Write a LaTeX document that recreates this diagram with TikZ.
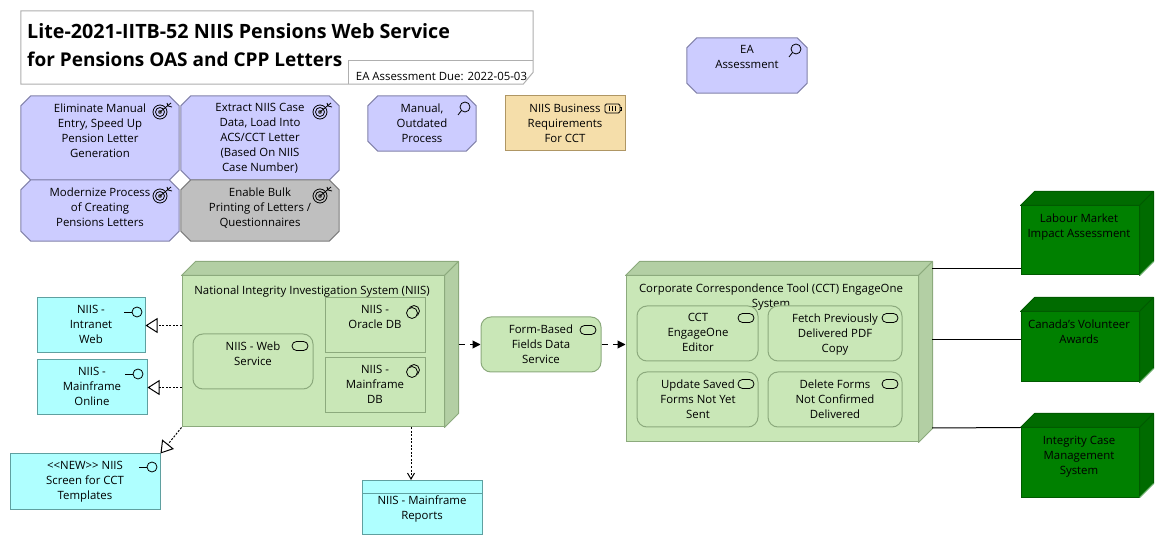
\documentclass[tikz,border=0pt]{standalone}
\usepackage{fontspec}
\setmainfont{Open Sans}
\usetikzlibrary{arrows.meta,calc}
\definecolor{GoalFill}{RGB}{204,204,255}
\definecolor{GoalLine}{RGB}{130,130,170}
\definecolor{GrayFill}{RGB}{191,191,191}
\definecolor{GrayLine}{RGB}{125,125,125}
\definecolor{CyanFill}{RGB}{175,255,255}
\definecolor{CyanLine}{RGB}{95,160,160}
\definecolor{SandFill}{RGB}{245,222,170}
\definecolor{SandLine}{RGB}{175,150,100}
\definecolor{LeafFill}{RGB}{201,231,183}
\definecolor{LeafSide}{RGB}{179,207,164}
\definecolor{LeafLine}{RGB}{140,170,125}
\definecolor{DeepFill}{RGB}{0,128,0}
\definecolor{DeepSide}{RGB}{0,107,0}
\definecolor{DeepLine}{RGB}{0,90,0}
\definecolor{DeepEdge}{RGB}{100,175,100}
\definecolor{FrameLine}{RGB}{175,175,175}
\tikzset{
  ea/blank/.style={inner sep=0pt},
  ea/goal/.style={draw=GoalLine,line width=1pt,fill=GoalFill},
  ea/goalgray/.style={draw=GrayLine,line width=1pt,fill=GrayFill},
  ea/app/.style={draw=CyanLine,line width=1pt,fill=CyanFill,inner sep=0pt},
  ea/req/.style={draw=SandLine,line width=1pt,fill=SandFill,inner sep=0pt},
  ea/comp/.style={draw=LeafLine,line width=1pt,fill=LeafFill,inner sep=0pt},
  ea/service/.style={ea/comp,rounded corners=10pt},
  ea/host/.style={ea/comp},
  ea/hostface/.style={draw=LeafLine,line width=1pt,fill=LeafSide,line join=round},
  ea/ext/.style={draw=DeepLine,line width=1pt,fill=DeepFill,inner sep=0pt},
  ea/extface/.style={draw=DeepLine,line width=1pt,fill=DeepSide,line join=round},
  ea/frame/.style={draw=FrameLine,line width=1pt,fill=white},
  ea/text/.style={font=\fontsize{11.4}{15}\selectfont,align=center,inner sep=0pt,anchor=north,yshift=4.5pt,execute at begin node=\strut},
  ea/title/.style={font=\fontsize{19.7}{28}\selectfont\bfseries,align=left,inner sep=0pt,anchor=north west,execute at begin node=\strut},
  ea/realize/.style={-{Triangle[open,length=12pt,width=15pt]},line width=1pt,black,dash pattern=on 2pt off 1.5pt},
  ea/access/.style={-{Straight Barb[length=6pt,width=7pt]},line width=1pt,black,dash pattern=on 2pt off 1.5pt},
  ea/flow/.style={-{Triangle[length=8pt,width=8pt]},line width=1pt,black,dash pattern=on 6.5pt off 5pt},
  ea/assoc/.style={line width=1pt,black},
  pics/goalicon/.style={code={
    \draw[line width=0.8pt] (0,0) circle (7);
    \draw[line width=0.8pt] (0,0) circle (4.5);
    \fill[black!70] (0,0) circle (2);
    \draw[line width=0.8pt] (0,0) -- (11,-9);
    \draw[line width=0.8pt] (7,-9) -- (8,-6) -- (12,-5);
  }},
  pics/lensicon/.style={code={
    \draw[line width=0.8pt] (0,0) circle (5);
    \draw[line width=0.8pt] (-3.5,3.5) -- (-7,8);
  }},
  pics/socketicon/.style={code={
    \draw[line width=0.8pt] (0,0) circle (5);
    \draw[line width=0.8pt] (-5,0) -- (-13,0);
  }},
  pics/pillicon/.style={code={
    \draw[line width=0.8pt,rounded corners=4.5pt] (-8,-4.5) rectangle (8,4.5);
  }},
  pics/pairicon/.style={code={
    \draw[line width=0.8pt] (1,-1) circle (5.5);
    \draw[line width=0.8pt,fill=LeafFill] (-1,1) circle (5.5);
  }},
  pics/cellicon/.style={code={
    \draw[line width=0.8pt,rounded corners=1.5pt] (-8,-4.5) rectangle (7,4.5);
    \draw[line width=0.8pt] (7,-1.5) -- (8.5,-1.5) -- (8.5,1.5) -- (7,1.5);
    \foreach \cellx in {-4,-1,2} {\draw[line width=0.8pt] (\cellx,-2.5) -- (\cellx,2.5);}
  }}
}
\newcommand{\depthfaces}[2]{
  \draw[#2] (#1.north west) -- ([shift={(14,-14)}]#1.north west) -- ([shift={(14,-14)}]#1.north east) -- (#1.north east) -- cycle;
  \draw[#2] (#1.north east) -- ([shift={(14,-14)}]#1.north east) -- ([shift={(14,-14)}]#1.south east) -- (#1.south east) -- cycle;
}
\newcommand{\cutbox}[2]{
  \draw[#2] ([shift={(10,0)}]#1.north west) -- ([shift={(-10,0)}]#1.north east) -- ([shift={(0,10)}]#1.north east)
    -- ([shift={(0,-10)}]#1.south east) -- ([shift={(-10,0)}]#1.south east) -- ([shift={(10,0)}]#1.south west)
    -- ([shift={(0,-10)}]#1.south west) -- ([shift={(0,10)}]#1.north west) -- cycle;
}
\begin{document}
\begin{tikzpicture}[x=1pt,y=-1pt]
  \useasboundingbox (0,0) rectangle (1163,545);
  % title block
  \node[ea/blank,minimum width=512pt,minimum height=73pt] (frame) at (277,47.5) {};
  \draw[ea/frame] (frame.north west) -- (frame.north east) -- ([shift={(0,-12)}]frame.south east)
    -- ([shift={(-10,0)}]frame.south east) -- (frame.south west) -- cycle;
  \node[ea/title] (titletxt) at (27,23) {Lite-2021-IITB-52 NIIS Pensions Web Service\\{\fontsize{19}{28}\selectfont for Pensions OAS and CPP Letters}};
  \node[ea/blank,minimum width=184pt,minimum height=23pt] (due) at (441,72.5) {};
  \draw[ea/frame,fill=none] (due.south west) -- (due.north west) -- (due.north east);
  \node[ea/text] (duetxt) at (441.5,74) {EA Assessment Due: 2022-05-03};
  % motivation
  \node[ea/blank,minimum width=158pt,minimum height=84pt] (goalA) at (100,138) {};
  \cutbox{goalA}{ea/goal}
  \node[ea/text] (goalAtxt) at (100,108) {Eliminate Manual\\Entry, Speed Up\\Pension Letter\\Generation};
  \pic at (160,112) {goalicon};
  \node[ea/blank,minimum width=158pt,minimum height=84pt] (goalB) at (260,138) {};
  \cutbox{goalB}{ea/goal}
  \node[ea/text] (goalBtxt) at (260,108) {Extract NIIS Case\\Data, Load Into\\ACS/CCT Letter\\(Based On NIIS\\Case Number)};
  \pic at (320,112) {goalicon};
  \node[ea/blank,minimum width=158pt,minimum height=61pt] (goalC) at (100,210.5) {};
  \cutbox{goalC}{ea/goal}
  \node[ea/text] (goalCtxt) at (100,192) {Modernize Process\\of Creating\\Pensions Letters};
  \pic at (160,196) {goalicon};
  \node[ea/blank,minimum width=158pt,minimum height=61pt] (goalD) at (260,210.5) {};
  \cutbox{goalD}{ea/goalgray}
  \node[ea/text] (goalDtxt) at (260,192) {Enable Bulk\\Printing of Letters /\\Questionnaires};
  \pic at (320,196) {goalicon};
  \node[ea/blank,minimum width=108pt,minimum height=55pt] (manual) at (422,123.5) {};
  \cutbox{manual}{ea/goal}
  \node[ea/text] (manualtxt) at (422,108) {Manual,\\Outdated\\Process};
  \pic at (465,107) {lensicon};
  \node[ea/req,minimum width=120pt,minimum height=55pt] (bizreq) at (565,123.5) {};
  \node[ea/text] (bizreqtxt) at (565,108) {NIIS Business\\Requirements\\For CCT};
  \pic at (613,108.5) {cellicon};
  \node[ea/blank,minimum width=120pt,minimum height=55pt] (assess) at (747,65.5) {};
  \cutbox{assess}{ea/goal}
  \node[ea/text] (assesstxt) at (747,50) {EA\\Assessment};
  \pic at (796,49) {lensicon};
  % NIIS
  \node[ea/host,minimum width=262pt,minimum height=151pt] (niis) at (313,351.5) {};
  \depthfaces{niis}{ea/hostface}
  \node[ea/text] (niistxt) at (312,288) {National Integrity Investigation System (NIIS)};
  \node[ea/service,minimum width=120pt,minimum height=55pt] (websvc) at (253,361.5) {};
  \node[ea/text] (websvctxt) at (253,346) {NIIS - Web\\Service};
  \pic at (300,346) {pillicon};
  \node[ea/comp,minimum width=100pt,minimum height=55pt] (oracle) at (375,325.5) {};
  \node[ea/text] (oracletxt) at (375,310) {NIIS -\\Oracle DB};
  \pic at (413,312) {pairicon};
  \node[ea/comp,minimum width=100pt,minimum height=55pt] (mfdb) at (375,385.5) {};
  \node[ea/text] (mfdbtxt) at (375,370) {NIIS -\\Mainframe\\DB};
  \pic at (413,371) {pairicon};
  % application
  \node[ea/app,minimum width=108pt,minimum height=55pt] (intranet) at (91,325.5) {};
  \node[ea/text] (intranettxt) at (91,310) {NIIS -\\Intranet\\Web};
  \pic at (137,312) {socketicon};
  \node[ea/app,minimum width=110pt,minimum height=55pt] (online) at (92,387.5) {};
  \node[ea/text] (onlinetxt) at (92,372) {NIIS -\\Mainframe\\Online};
  \pic at (138,374) {socketicon};
  \node[ea/app,minimum width=150pt,minimum height=55pt] (screen) at (85,481.5) {};
  \node[ea/text] (screentxt) at (85,466) {{<}{<}NEW{>}{>} NIIS\\Screen for CCT\\Templates};
  \pic at (152,467) {socketicon};
  \node[ea/app,minimum width=120pt,minimum height=54pt] (reports) at (422,507) {};
  \coordinate (reportsrule) at (362,493);
  \draw[draw=CyanLine,line width=1pt] (reportsrule) -- (reports.east |- reportsrule);
  \node[ea/text] (reportstxt) at (422,500) {NIIS - Mainframe\\Reports};
  \node[ea/service,minimum width=120pt,minimum height=55pt] (form) at (541,344.5) {};
  \node[ea/text] (formtxt) at (541,329) {Form-Based\\Fields Data\\Service};
  \pic at (588,330) {pillicon};
  % CCT
  \node[ea/host,minimum width=292pt,minimum height=166pt] (cct) at (772,359) {};
  \depthfaces{cct}{ea/hostface}
  \node[ea/text] (ccttxt) at (771,288) {Corporate Correspondence Tool (CCT) EngageOne\\System};
  \node[ea/service,minimum width=121pt,minimum height=55pt] (editor) at (697.5,333.5) {};
  \node[ea/text] (editortxt) at (698,318) {CCT\\EngageOne\\Editor};
  \pic at (746,318) {pillicon};
  \node[ea/service,minimum width=134pt,minimum height=55pt] (fetch) at (835,333.5) {};
  \node[ea/text] (fetchtxt) at (835,318) {Fetch Previously\\Delivered PDF\\Copy};
  \pic at (890,318) {pillicon};
  \node[ea/service,minimum width=121pt,minimum height=55pt] (update) at (697.5,399.5) {};
  \node[ea/text] (updatetxt) at (698,384) {Update Saved\\Forms Not Yet\\Sent};
  \pic at (746,384) {pillicon};
  \node[ea/service,minimum width=134pt,minimum height=55pt] (delete) at (835,399.5) {};
  \node[ea/text] (deletetxt) at (835,384) {Delete Forms\\Not Confirmed\\Delivered};
  \pic at (890,384) {pillicon};
  % external systems
  \node[ea/ext,minimum width=118pt,minimum height=69pt] (labour) at (1080,240.5) {};
  \depthfaces{labour}{ea/extface}
  \node[ea/text] (labourtxt) at (1079,218) {Labour Market\\Impact Assessment};
  \node[ea/ext,minimum width=118pt,minimum height=70pt] (canada) at (1080,347) {};
  \depthfaces{canada}{ea/extface}
  \node[ea/text] (canadatxt) at (1079,324) {Canada's Volunteer\\Awards};
  \node[ea/ext,minimum width=118pt,minimum height=69pt] (integrity) at (1080,462.5) {};
  \depthfaces{integrity}{ea/extface}
  \node[ea/text] (integritytxt) at (1079,440) {Integrity Case\\Management\\System};
  \foreach \ext in {labour,canada,integrity} {
    \draw[DeepEdge,line width=1pt] (\ext.south east) -- ([shift={(14,-14)}]\ext.south east);
  }
  % connectors
  \coordinate (cctportA) at (932,269);
  \coordinate (cctportB) at (932,340);
  \coordinate (cctportC) at (932,428);
  \coordinate (reportsin) at (411,480);
  \draw[ea/realize] (niis.west |- intranet.east) -- (intranet.east);
  \draw[ea/realize] (niis.west |- online.east) -- (online.east);
  \draw[ea/realize] (niis.south west) -- (screen.north east);
  \draw[ea/access] (niis.south -| reportsin) -- (reportsin);
  \draw[ea/flow] ([shift={(14,-7)}]niis.east) -- (form.west);
  \draw[ea/flow] (form.east) -- (cct.west |- form.east);
  \draw[ea/assoc] (cctportA) -- (labour.west |- cctportA);
  \draw[ea/assoc] (cctportB) -- (canada.west |- cctportB);
  \draw[ea/assoc] (cctportC) -- (integrity.north west);
\end{tikzpicture}
\end{document}
